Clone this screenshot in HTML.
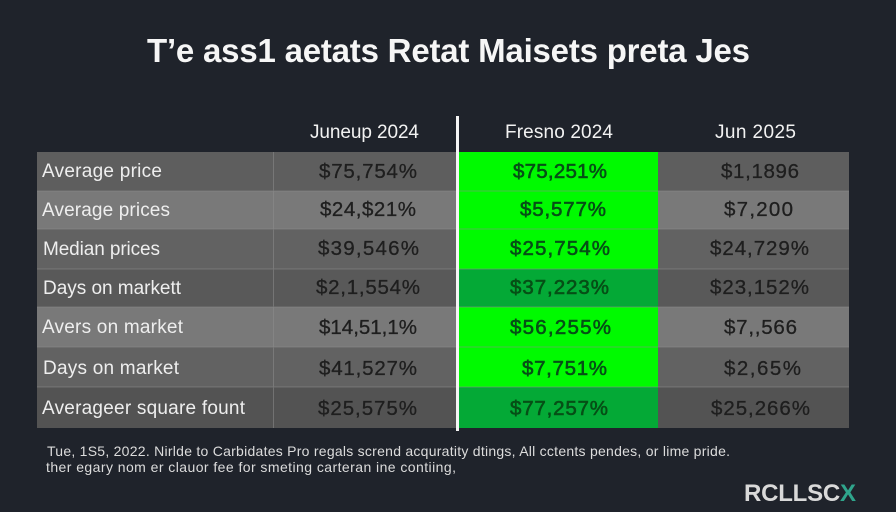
<!DOCTYPE html>
<html lang="en">
<head>
<meta charset="utf-8">
<title>Real estate market table</title>
<style>
html,body{margin:0;padding:0;width:896px;height:512px;overflow:hidden;background:#1f232b}
svg{display:block}
text{font-family:"Liberation Sans",sans-serif}
.hd{font-size:19px;fill:#f2f2f2}
.lb{font-size:19px;fill:#eeeeee}
.v{font-size:20.500px;fill:#1e1e1e;stroke:#1e1e1e;stroke-width:.3px}
.g{font-size:20.500px;fill:#064f16;stroke:#064f16;stroke-width:.6px}
.fn{font-size:14px;fill:#dcdcdc}
</style>
</head>
<body>
<svg width="896" height="512" viewBox="0 0 896 512" xmlns="http://www.w3.org/2000/svg">
<defs>
<linearGradient id="logoX" x1="0" y1="0" x2="1" y2="0"><stop offset=".45" stop-color="#e8743a"/><stop offset=".55" stop-color="#2fa58c"/></linearGradient>
</defs>
<rect width="896" height="512" fill="#1f232b"/>
<text x="147" y="62" font-size="33" font-weight="bold" fill="#f6f6f6" textLength="603">T’e ass1 aetats Retat Maisets preta Jes</text>

<g>
<text class="hd" x="310" y="138" textLength="109">Junеup 2024</text>
<text class="hd" x="505" y="138" textLength="108">Fresno 2024</text>
<text class="hd" x="715" y="138" textLength="81">Jun 2025</text>
</g>

<g>
<rect x="37" y="152" width="812" height="39" fill="#5e5e5e"/>
<rect x="37" y="191" width="812" height="38" fill="#797979"/>
<rect x="37" y="229" width="812" height="40" fill="#626262"/>
<rect x="37" y="269" width="812" height="38" fill="#595959"/>
<rect x="37" y="307" width="812" height="40" fill="#797979"/>
<rect x="37" y="347" width="812" height="40" fill="#626262"/>
<rect x="37" y="387" width="812" height="41" fill="#535353"/>
</g>

<g>
<rect x="459" y="152" width="199" height="117" fill="#00fa00"/>
<rect x="459" y="269" width="199" height="38" fill="#04a936"/>
<rect x="459" y="307" width="199" height="80" fill="#00fa00"/>
<rect x="459" y="387" width="199" height="41" fill="#04a936"/>
</g>

<g stroke="#8d8d8d" stroke-width="1" opacity=".55">
<line x1="37" x2="849" y1="191" y2="191"/>
<line x1="37" x2="849" y1="229" y2="229"/>
<line x1="37" x2="849" y1="269" y2="269"/>
<line x1="37" x2="849" y1="307" y2="307"/>
<line x1="37" x2="849" y1="347" y2="347"/>
<line x1="37" x2="849" y1="387" y2="387"/>
<line x1="273.500" x2="273.500" y1="152" y2="428"/>
</g>
<rect x="456" y="116" width="3" height="315" fill="#f4f4f4"/>

<g>
<text class="lb" x="42" y="177" textLength="120">Average price</text>
<text class="lb" x="42" y="216" textLength="128">Average prices</text>
<text class="lb" x="43" y="255" textLength="117">Median prices</text>
<text class="lb" x="43" y="294" textLength="138">Days on markett</text>
<text class="lb" x="42" y="333" textLength="141">Avers on market</text>
<text class="lb" x="43" y="374" textLength="136">Days on market</text>
<text class="lb" x="42" y="414" textLength="203">Averageer square fount</text>
</g>

<g>
<text class="v" x="319" y="178" textLength="98">$75,754%</text>
<text class="v" x="320" y="216" textLength="96">$24,$21%</text>
<text class="v" x="318" y="255" textLength="101">$39,546%</text>
<text class="v" x="316" y="294" textLength="104">$2,1,554%</text>
<text class="v" x="319" y="334" textLength="98">$14,51,1%</text>
<text class="v" x="319" y="375" textLength="98">$41,527%</text>
<text class="v" x="318" y="415" textLength="99">$25,575%</text>
</g>

<g>
<text class="g" x="513" y="178" textLength="94">$75,251%</text>
<text class="g" x="520" y="216" textLength="86">$5,577%</text>
<text class="g" x="510" y="255" textLength="100">$25,754%</text>
<text class="g" x="510" y="294" textLength="99">$37,223%</text>
<text class="g" x="510" y="334" textLength="101">$56,255%</text>
<text class="g" x="522" y="375" textLength="85">$7,751%</text>
<text class="g" x="510" y="415" textLength="98">$77,257%</text>
</g>

<g>
<text class="v" x="721" y="178" textLength="78">$1,1896</text>
<text class="v" x="724" y="216" textLength="69">$7,200</text>
<text class="v" x="710" y="255" textLength="99">$24,729%</text>
<text class="v" x="710" y="294" textLength="99">$23,152%</text>
<text class="v" x="724" y="334" textLength="73">$7,,566</text>
<text class="v" x="724" y="375" textLength="77">$2,65%</text>
<text class="v" x="711" y="415" textLength="99">$25,266%</text>
</g>

<g>
<text class="fn" x="47" y="456" textLength="683">Tue, 1S5, 2022. Nirlde to Carbidates Pro regals scrend acquratity dtings, All cctents pendes, or lime pride.</text>
<text class="fn" x="46" y="472" textLength="410">ther egary nom er clauor fee for smeting carteran ine contiing,</text>
</g>

<text x="744" y="501" font-size="24" font-weight="bold" fill="#d9d9d9" textLength="112">RCLLSC<tspan fill="url(#logoX)">X</tspan></text>
</svg>
</body>
</html>
